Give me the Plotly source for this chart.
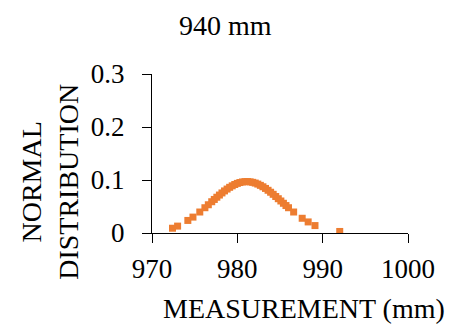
import plotly.graph_objects as go

# Measurements (mm) and their normal-distribution density values
measurement = [972.4, 973.0, 974.2, 974.8, 975.6, 976.2, 976.6, 977.0, 977.3, 977.6,
               977.9, 978.2, 978.5, 978.8, 979.1, 979.4, 979.7, 980.0, 980.3, 980.6,
               980.9, 981.2, 981.5, 981.8, 982.1, 982.4, 982.7, 983.0, 983.3, 983.6,
               983.9, 984.2, 984.5, 984.8, 985.1, 985.4, 985.7, 986.0, 986.6, 987.6,
               988.3, 989.1, 992.0]
density = [0.009, 0.013, 0.0237, 0.0300, 0.0396, 0.0477, 0.0533, 0.0590, 0.0633, 0.0675,
           0.0716, 0.0756, 0.0794, 0.0829, 0.0862, 0.0890, 0.0915, 0.0936, 0.0952, 0.0963,
           0.0969, 0.0970, 0.0965, 0.0956, 0.0942, 0.0923, 0.0899, 0.0872, 0.0841, 0.0806,
           0.0769, 0.0730, 0.0689, 0.0647, 0.0604, 0.0561, 0.0518, 0.0477, 0.0396, 0.0278,
           0.0209, 0.0140, 0.0029]

x_ticks = [970, 980, 990, 1000]
y_ticks = [0, 0.1, 0.2, 0.3]
y_tick_text = ["0", "0.1", "0.2", "0.3"]

FONT = "Liberation Serif"
W, H = 461, 327
L, R, T, B = 152, 53, 73.5, 93.5
pw, ph = W - L - R, H - T - B

fig = go.Figure(go.Scatter(
    x=measurement, y=density, mode="markers",
    marker=dict(symbol="square", size=7, color="#ED7D31", line=dict(width=0)),
    showlegend=False,
))

axis_common = dict(showgrid=False, zeroline=False, showline=True, linecolor="black",
                   linewidth=1.2, ticks="outside", ticklen=9, tickcolor="black",
                   tickwidth=1.2, tickfont=dict(family=FONT, size=27, color="black"))

fig.update_xaxes(range=[970, 1000], tickvals=x_ticks, ticktext=[str(v) for v in x_ticks],
                 ticklabelstandoff=2, **axis_common)
fig.update_yaxes(range=[0, 0.3], tickvals=y_ticks, ticktext=y_tick_text,
                 ticklabelstandoff=12, **axis_common)


def px_x(p):
    return (p - L) / pw


def px_y(p):
    return (H - B - p) / ph


fig.update_layout(
    width=W, height=H,
    margin=dict(l=L, r=R, t=T, b=B, pad=0),
    paper_bgcolor="white", plot_bgcolor="white",
    font=dict(family=FONT, color="black"),
    annotations=[
        dict(text="940 mm", x=px_x(225), y=px_y(25), xref="paper", yref="paper",
             showarrow=False, font=dict(family=FONT, size=28), xanchor="center",
             yanchor="middle"),
        dict(text="MEASUREMENT (mm)", x=px_x(304), y=px_y(309), xref="paper", yref="paper",
             showarrow=False, font=dict(family=FONT, size=28), xanchor="center",
             yanchor="middle"),
        dict(text="NORMAL<br>DISTRIBUTION", x=px_x(50), y=px_y(182), xref="paper",
             yref="paper", showarrow=False, font=dict(family=FONT, size=28), textangle=-90,
             xanchor="center", yanchor="middle"),
    ],
)

fig.write_html("out.html")
